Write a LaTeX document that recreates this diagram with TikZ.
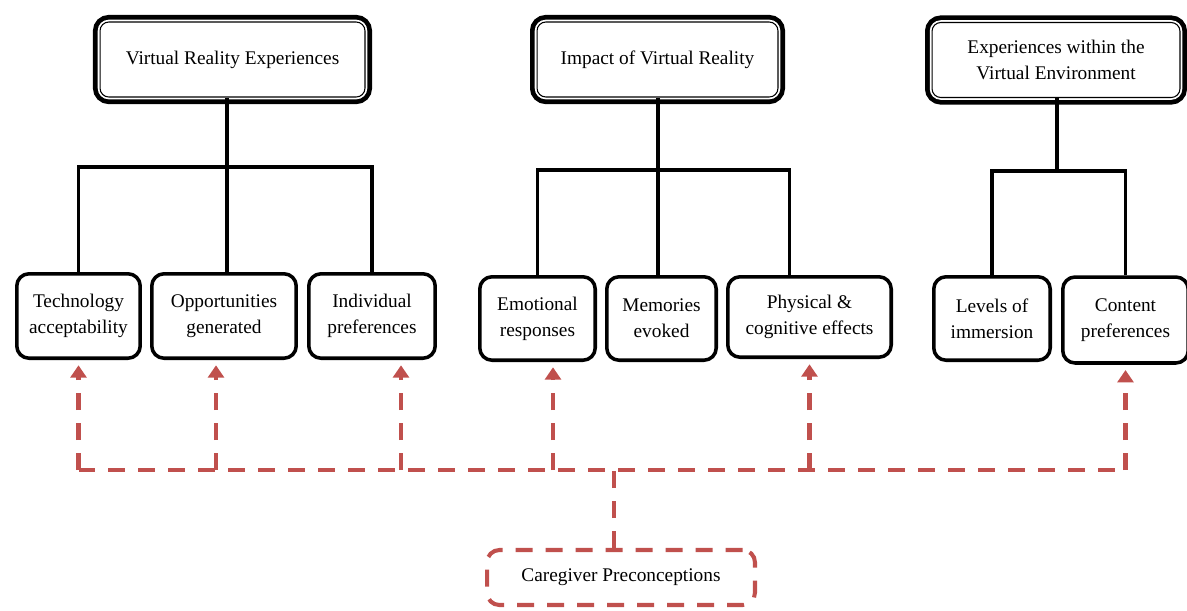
\documentclass[tikz,border=0pt]{standalone}
\usepackage{fontspec}
\setmainfont{Liberation Serif}
\usepackage{tikz}
\usetikzlibrary{arrows.meta, calc}
\definecolor{cgred}{RGB}{192,80,77}
\tikzstyle{topbox} = [rectangle, rounded corners=5pt, align=center, fill=white, draw=black, line width=0.6pt, preaction={draw=black, line width=8pt}, preaction={draw=white, line width=2.6pt}, font=\fontsize{11}{14.8}\selectfont]
\tikzstyle{subbox} = [rectangle, rounded corners=7pt, align=center, draw=black, line width=2pt, minimum height=1.69cm, font=\fontsize{11}{14.8}\selectfont]
\tikzstyle{line} = [line width=1.8pt]
\tikzstyle{dashline} = [cgred, line width=2.3pt, dash pattern=on 0.34cm off 0.26cm]
\tikzstyle{dasharrow} = [dashline, ->, >={Triangle[width=9pt,length=7pt]}, shorten >=3pt]

\begin{document}
\begin{tikzpicture}[x=0.02cm, y=-0.02cm]
	\useasboundingbox (0,0) rectangle (1187,610);
	% top level
	\node[topbox, minimum width=5.3cm, minimum height=1.5cm] (vr) at (232.5,59.5) {Virtual Reality Experiences};
	\node[topbox, minimum width=4.82cm, minimum height=1.5cm] (imp) at (657.5,59.5) {Impact of Virtual Reality};
	\node[topbox, minimum width=4.96cm, minimum height=1.5cm] (env) at (1056,60) {Experiences within the\\Virtual Environment};
	% second level
	\node[subbox, minimum width=2.47cm] (tech) at (78.5,316) {Technology\\acceptability};
	\node[subbox, minimum width=2.89cm] (opp) at (224,316) {Opportunities\\generated};
	\node[subbox, minimum width=2.53cm] (pref) at (372,316) {Individual\\preferences};
	\node[subbox, minimum width=2.31cm, minimum height=1.67cm] (emo) at (537.5,318.5) {Emotional\\responses};
	\node[subbox, minimum width=2.19cm, minimum height=1.67cm] (mem) at (661.5,318.5) {Memories\\evoked};
	\node[subbox, minimum width=3.27cm, minimum height=1.61cm] (phys) at (809.5,317) {Physical \&\\cognitive effects};
	\node[subbox, minimum width=2.33cm, minimum height=1.67cm] (lev) at (992,318.5) {Levels of\\immersion};
	\node[subbox, minimum width=2.51cm, minimum height=1.72cm] (cont) at (1125.5,320) {Content\\preferences};
	\node[rectangle, rounded corners=7pt, draw, dashline, minimum width=5.36cm, minimum height=1.1cm, font=\fontsize{11}{14.8}\selectfont, text=black] (care) at (621,577.5) {Caregiver Preconceptions};
	% tree lines
	\coordinate (b1) at (227,167);
	\coordinate (b2) at (658,170);
	\coordinate (b3) at (1057,171);
	\draw[line] (vr.south -| b1) -- (b1);
	\draw[line] (tech.north) |- (b1) -| (pref.north);
	\draw[line] (b1) -- (b1 |- opp.north);
	\draw[line] (imp.south -| b2) -- (b2);
	\draw[line] (emo.north) |- (b2) -| ($(phys.north)+(-20,0)$);
	\draw[line] (b2) -- (b2 |- mem.north);
	\draw[line] (env.south -| b3) -- (b3);
	\draw[line] (lev.north) |- (b3) -| (cont.north);
	% caregiver links
	\coordinate (rb) at (614,470);
	\draw[dashline] (care.north -| rb) -- (rb);
	\draw[dashline] (rb -| tech.south) -- (rb -| cont.south);
	\draw[dasharrow] (rb -| tech.south) -- (tech.south);
	\draw[dasharrow] ($(rb -| opp.south)+(-8,0)$) -- ($(opp.south)+(-8,0)$);
	\draw[dasharrow] ($(rb -| pref.south)+(29,0)$) -- ($(pref.south)+(29,0)$);
	\draw[dasharrow] ($(rb -| emo.south)+(15.5,0)$) -- ($(emo.south)+(15.5,0)$);
	\draw[dasharrow] (rb -| phys.south) -- (phys.south);
	\draw[dasharrow] (rb -| cont.south) -- (cont.south);
\end{tikzpicture}
\end{document}
